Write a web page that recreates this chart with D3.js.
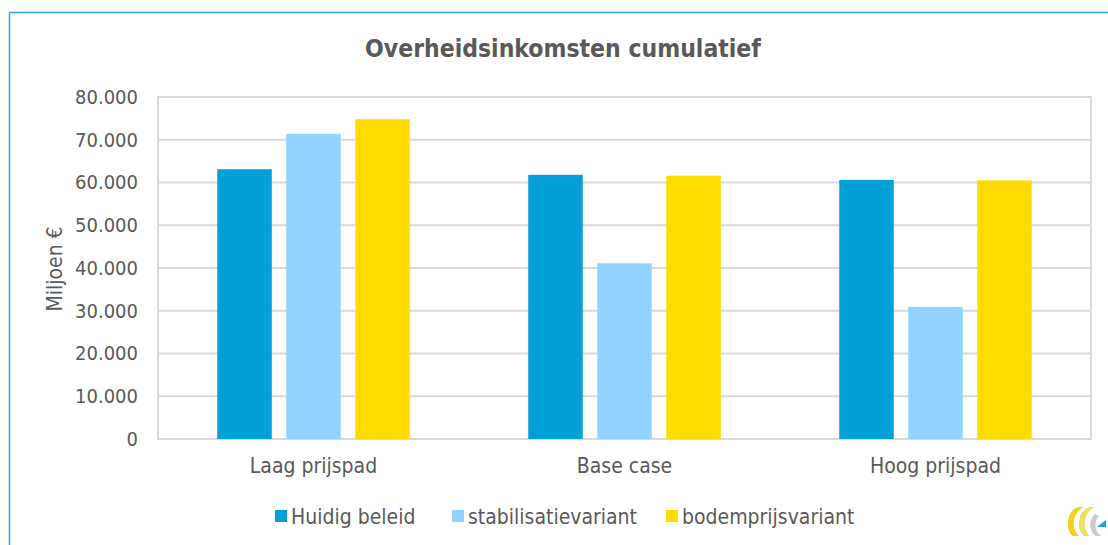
<!DOCTYPE html>
<html>
<head>
<meta charset="utf-8">
<script src="https://cdn.jsdelivr.net/npm/d3@7"></script>
<style>
  body { margin: 0; background: #fff; }
  text { font-family: "DejaVu Sans Condensed", "DejaVu Sans", sans-serif; fill: #595959; }
</style>
</head>
<body>
<svg id="chart" width="1108" height="545"></svg>
<script>
// chart data
var categories = ["Laag prijspad", "Base case", "Hoog prijspad"];
var seriesNames = ["Huidig beleid", "stabilisatievariant", "bodemprijsvariant"];
var huidigBeleid = [63100, 61800, 60600];
var stabilisatie = [71400, 41100, 30900];
var bodemprijs = [74800, 61600, 60500];
var yTicks = [0, 10000, 20000, 30000, 40000, 50000, 60000, 70000, 80000];
var colors = ["#039fd9", "#8fd3fe", "#ffdb00"];

var seriesValues = [huidigBeleid, stabilisatie, bodemprijs];

var svg = d3.select("#chart");
var margin = {left: 158, right: 1091, top: 97, bottom: 439};

// outer border of the chart box
svg.append("rect")
    .attr("x", 9.5).attr("y", 12.5)
    .attr("width", 1120).attr("height", 560)
    .attr("fill", "none")
    .attr("stroke", "#2aa9e0")
    .attr("stroke-width", 1.5);

svg.append("text")
    .attr("x", 563).attr("y", 57)
    .attr("text-anchor", "middle")
    .attr("font-size", 24.5)
    .attr("font-weight", "bold")
    .text("Overheidsinkomsten cumulatief");

var y = d3.scaleLinear().domain([0, 80000]).range([margin.bottom, margin.top]);
var x0 = d3.scaleBand().domain(categories).range([margin.left, margin.right])
    .paddingInner(0.381).paddingOuter(0.1905);
var x1 = d3.scaleBand().domain(seriesNames).range([0, x0.bandwidth()]).paddingInner(0.21);

var fmt = function(v) { return v == 0 ? "0" : d3.format(",")(v).replace(/,/g, "."); };

// gridlines
svg.append("g")
    .selectAll("line")
    .data(yTicks)
    .enter().append("line")
    .attr("x1", margin.left).attr("x2", margin.right)
    .attr("y1", function(d) { return y(d); })
    .attr("y2", function(d) { return y(d); })
    .attr("stroke", "#d9d9d9")
    .attr("stroke-width", 2);

// plot area border
svg.append("rect")
    .attr("x", margin.left).attr("y", margin.top)
    .attr("width", margin.right - margin.left)
    .attr("height", margin.bottom - margin.top)
    .attr("fill", "none")
    .attr("stroke", "#d9d9d9")
    .attr("stroke-width", 2);

// y axis
var yAxis = svg.append("g")
    .attr("transform", "translate(" + margin.left + ",0)")
    .call(d3.axisLeft(y).tickValues(yTicks).tickFormat(fmt).tickSize(0).tickPadding(20));
yAxis.select(".domain").remove();
yAxis.selectAll("text")
    .attr("font-size", 20)
    .attr("fill", "#595959")
    .style("font-family", "\"DejaVu Sans Condensed\", \"DejaVu Sans\", sans-serif");

svg.append("text")
    .attr("transform", "translate(62,269) rotate(-90)")
    .attr("text-anchor", "middle")
    .attr("font-size", 21)
    .text("Miljoen €");

// bars
var groups = svg.append("g")
    .selectAll("g")
    .data(categories)
    .enter().append("g")
    .attr("transform", function(d) { return "translate(" + x0(d) + ",0)"; });

groups.selectAll("rect")
    .data(function(d, i) {
        return seriesNames.map(function(s, j) { return {series: s, value: seriesValues[j][i], idx: j}; });
    })
    .enter().append("rect")
    .attr("x", function(d) { return x1(d.series); })
    .attr("width", x1.bandwidth())
    .attr("y", function(d) { return y(d.value); })
    .attr("height", function(d) { return y(0) - y(d.value); })
    .attr("fill", function(d) { return colors[d.idx]; });

// x axis labels
var xAxis = svg.append("g")
    .attr("transform", "translate(0," + margin.bottom + ")")
    .call(d3.axisBottom(x0).tickSize(0).tickPadding(19));
xAxis.select(".domain").remove();
xAxis.selectAll("text")
    .attr("font-size", 21)
    .attr("fill", "#595959")
    .style("font-family", "\"DejaVu Sans Condensed\", \"DejaVu Sans\", sans-serif");

// legend
var legendX = [275, 452, 666];
var legend = svg.append("g")
    .selectAll("g")
    .data(seriesNames)
    .enter().append("g")
    .attr("transform", function(d, i) { return "translate(" + legendX[i] + ",510)"; });
legend.append("rect")
    .attr("width", 12).attr("height", 12)
    .attr("fill", function(d, i) { return colors[i]; });
legend.append("text")
    .attr("x", 16).attr("y", 14)
    .attr("font-size", 21)
    .text(function(d) { return d; });

// small logo bottom right
var logo = svg.append("g").attr("transform", "translate(1064,506)");
logo.append("path")
    .attr("d", "M15,1 C3,3 0,24 9,30 L15,30 C7,24 8,6 20,1 Z")
    .attr("fill", "#f0d21a");
logo.append("path")
    .attr("d", "M26,1 C14,3 11,24 20,30 L26,30 C18,24 19,6 31,1 Z")
    .attr("fill", "#ece069");
logo.append("path")
    .attr("d", "M31,8 C24,14 25,26 32,30 L37,30 C30,25 30,15 35,10 Z")
    .attr("fill", "#c9c9c9");
logo.append("path")
    .attr("d", "M33,21 L42,14 L42,21 Z")
    .attr("fill", "#1ba1e0");
</script>
</body>
</html>
